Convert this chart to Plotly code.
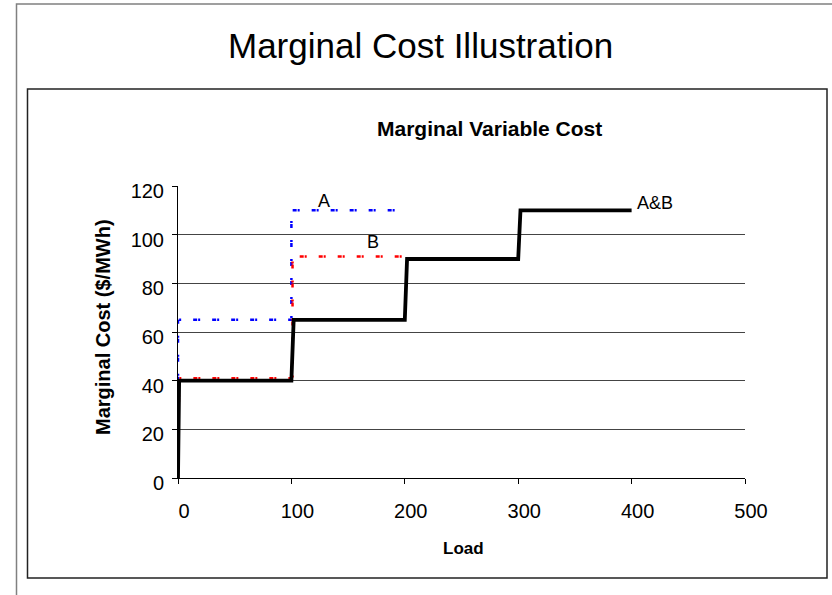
import plotly.graph_objects as go

# ---- data ----
load_ab = [0, 1, 100, 102, 200, 202, 300, 302, 400]
cost_ab = [0, 40, 40, 65, 65, 90, 90, 110, 110]

load_a = [0, 0, 100, 100, 200]
cost_a = [40, 65, 65, 110, 110]

load_b = [0, 1, 101, 101, 200]
cost_b = [0, 41, 41, 91, 91]

x_ticks = [0, 100, 200, 300, 400, 500]
y_ticks = [0, 20, 40, 60, 80, 100, 120]

labels = ["A", "B", "A&B"]
label_x = [129, 172, 421]
label_y = [114, 97, 113]

# ---- layout geometry (pixels) ----
W_PX, H_PX = 832, 595
L, R, T, B = 178, 745, 186, 478
PW, PH = R - L, B - T


def px(x):
    return (x - L) / PW


def py(y):
    return (B - y) / PH


FONT = "Liberation Sans, Arial, sans-serif"
dash = "4px,1px,2px,12px"

fig = go.Figure()
fig.add_trace(go.Scatter(x=load_a, y=cost_a, mode="lines", name="A",
                         line=dict(color="#0000ff", width=2.5, dash=dash)))
fig.add_trace(go.Scatter(x=load_b, y=cost_b, mode="lines", name="B",
                         line=dict(color="#ff0000", width=2.5, dash=dash)))
fig.add_trace(go.Scatter(x=load_ab, y=cost_ab, mode="lines", name="A&B",
                         line=dict(color="#000000", width=3.8)))

annotations = []
for t, x, y in zip(labels, label_x, label_y):
    annotations.append(dict(x=x, y=y, xref="x", yref="y", text=t, showarrow=False,
                            xanchor="center", yanchor="middle",
                            font=dict(family=FONT, size=18, color="black")))

annotations += [
    dict(x=px(420), y=py(45), xref="paper", yref="paper", text="Marginal Cost Illustration",
         showarrow=False, xanchor="center", yanchor="middle",
         font=dict(family=FONT, size=35, color="black")),
    dict(x=px(489), y=py(128), xref="paper", yref="paper", text="<b>Marginal Variable Cost</b>",
         showarrow=False, xanchor="center", yanchor="middle",
         font=dict(family=FONT, size=21, color="black")),
    dict(x=px(463), y=py(548), xref="paper", yref="paper", text="<b>Load</b>",
         showarrow=False, xanchor="center", yanchor="middle",
         font=dict(family=FONT, size=17, color="black")),
    dict(x=px(103), y=py(327), xref="paper", yref="paper", text="<b>Marginal Cost ($/MWh)</b>",
         showarrow=False, textangle=-90, xanchor="center", yanchor="middle",
         font=dict(family=FONT, size=20, color="black")),
]

shapes = [
    dict(type="rect", xref="paper", yref="paper", x0=px(16.5), y0=py(4), x1=px(845), y1=py(610),
         line=dict(color="#808080", width=1.5), layer="below"),
    dict(type="rect", xref="paper", yref="paper", x0=px(27.5), y0=py(89), x1=px(827), y1=py(578),
         line=dict(color="#222222", width=1.5), layer="below"),
]

fig.update_layout(
    width=W_PX, height=H_PX, autosize=False,
    margin=dict(l=L, r=W_PX - R, t=T, b=H_PX - B, pad=0),
    paper_bgcolor="white", plot_bgcolor="white",
    showlegend=False,
    annotations=annotations, shapes=shapes,
    font=dict(family=FONT, color="black"),
)
fig.update_xaxes(range=[0, 500], tickvals=x_ticks, ticktext=[str(v) for v in x_ticks],
                 showgrid=False, zeroline=False, showline=True, linecolor="black", linewidth=1,
                 ticks="outside", ticklen=5, tickcolor="black", tickfont=dict(size=20, family=FONT),
                 ticklabelstandoff=10, ticklabelshift=6, fixedrange=True)
fig.update_yaxes(range=[0, 120], tickvals=y_ticks, ticktext=[str(v) for v in y_ticks],
                 showgrid=True, gridcolor="#444444", gridwidth=1, zeroline=False,
                 showline=True, linecolor="black", linewidth=1,
                 ticks="outside", ticklen=5, tickcolor="black", tickfont=dict(size=20, family=FONT),
                 ticklabelstandoff=4, ticklabelshift=5, fixedrange=True)

fig.write_html("out.html", config={"displayModeBar": False},
               post_script="document.body.style.margin='0';document.body.style.overflow='hidden';")
